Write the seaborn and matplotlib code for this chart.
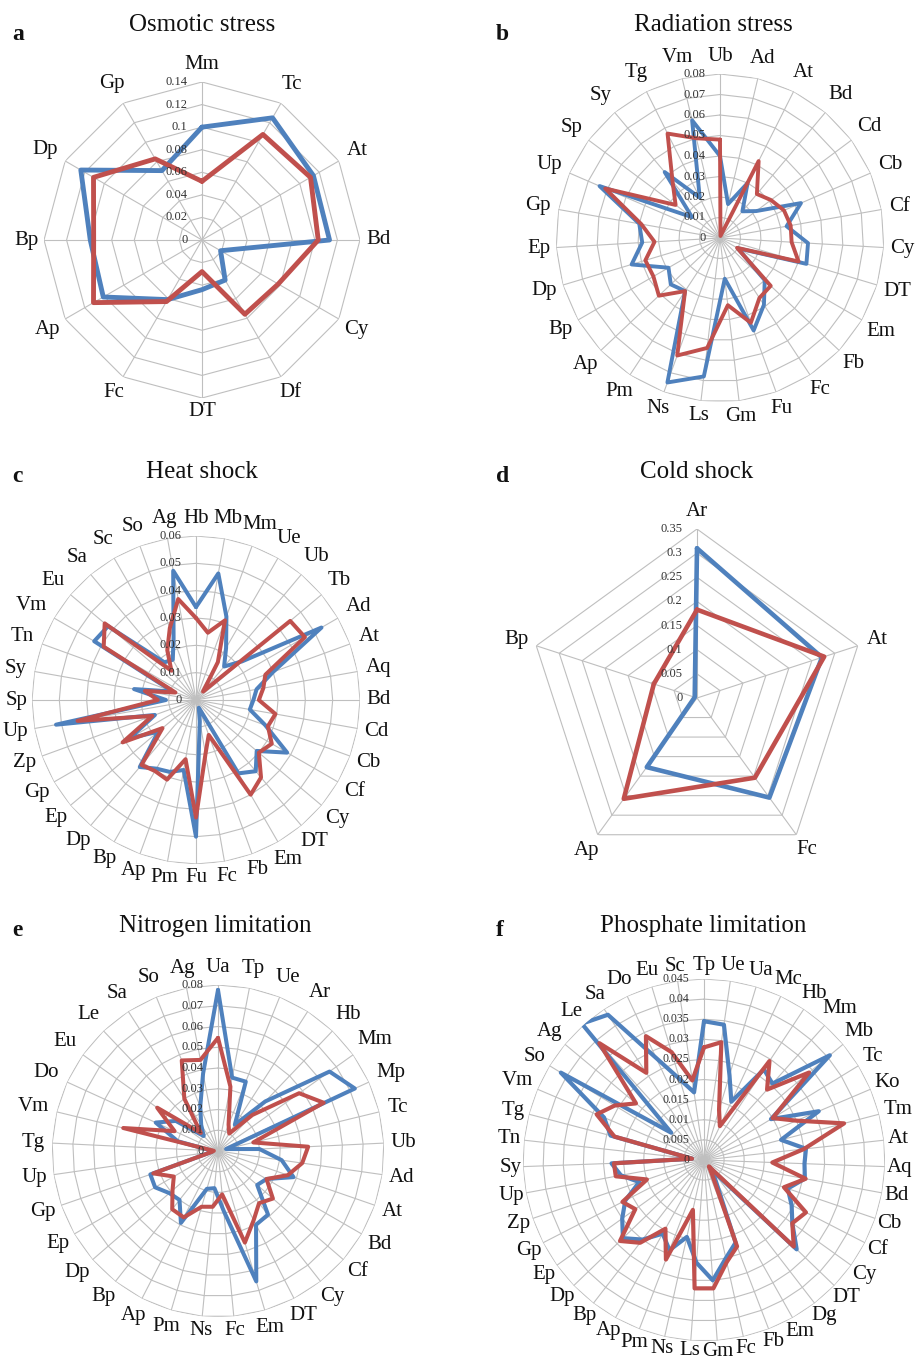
import numpy as np
import pandas as pd
import matplotlib
matplotlib.use("Agg")
import matplotlib.pyplot as plt
import seaborn as sns
from matplotlib.textpath import TextPath
from matplotlib.font_manager import FontProperties

# ---------------- data ----------------
# (a) Osmotic stress
osm_cats = ["Mm", "Tc", "At", "Bd", "Cy", "Df", "DT", "Fc", "Ap", "Bp", "Dp", "Gp"]
osm_blue = [0.100, 0.125, 0.114, 0.113, 0.019, 0.041, 0.044, 0.061, 0.101, 0.099, 0.124, 0.071]
osm_red = [0.052, 0.108, 0.111, 0.103, 0.078, 0.076, 0.028, 0.063, 0.111, 0.096, 0.111, 0.083]

# (b) Radiation stress
rad_cats = ["Ub", "Ad", "At", "Bd", "Cd", "Cb", "Cf", "Cy", "DT", "Em", "Fb", "Fc", "Fu", "Gm",
            "Ls", "Ns", "Pm", "Ap", "Bp", "Dp", "Ep", "Gp", "Up", "Sp", "Sy", "Tg", "Vm"]
rad_blue = [0.040, 0.017, 0.030, 0.017, 0.022, 0.043, 0.033, 0.043, 0.044, 0.010, 0.030, 0.039,
            0.048, 0.020, 0.068, 0.075, 0.031, 0.033, 0.029, 0.045, 0.038, 0.040, 0.064, 0.017,
            0.042, 0.022, 0.059]
rad_red = [0.048, 0.001, 0.042, 0.028, 0.031, 0.034, 0.035, 0.035, 0.040, 0.0096, 0.034, 0.035,
           0.044, 0.033, 0.054, 0.061, 0.031, 0.041, 0.0375, 0.038, 0.032, 0.039, 0.061, 0.027,
           0.036, 0.057, 0.050]

# (c) Heat shock
heat_cats = ["Hb", "Mb", "Mm", "Ue", "Ub", "Tb", "Ad", "At", "Aq", "Bd", "Cd", "Cb", "Cf", "Cy",
             "DT", "Em", "Fb", "Fc", "Fu", "Pm", "Ap", "Bp", "Dp", "Ep", "Gp", "Zp", "Up", "Sp",
             "Sy", "Tn", "Vm", "Eu", "Sa", "Sc", "So", "Ag"]
heat_blue = [0.034, 0.047, 0.0325, 0.022, 0.016, 0.022, 0.053, 0.030, 0.0225, 0.021, 0.020, 0.027,
             0.0385, 0.029, 0.034, 0.031, 0.003, 0.008, 0.050, 0.026, 0.028, 0.029, 0.032, 0.018,
             0.028, 0.016, 0.052, 0.011, 0.023, 0.009, 0.043, 0.042, 0.018, 0.017, 0.024, 0.048]
heat_red = [0.030, 0.025, 0.031, 0.016, 0.004, 0.045, 0.046, 0.027, 0.025, 0.023, 0.0295, 0.028,
            0.032, 0.030, 0.037, 0.040, 0.0136, 0.020, 0.043, 0.022, 0.031, 0.030, 0.031, 0.016,
            0.031, 0.017, 0.044, 0.014, 0.019, 0.008, 0.039, 0.0436, 0.014, 0.021, 0.028, 0.0375]

# (d) Cold shock
cold_cats = ["Ar", "At", "Fc", "Ap", "Bp"]
cold_blue = [0.310, 0.272, 0.255, 0.177, 0.005]
cold_red = [0.183, 0.277, 0.204, 0.258, 0.094]

# (e) Nitrogen limitation
nit_cats = ["Ua", "Tp", "Ue", "Ar", "Hb", "Mm", "Mp", "Tc", "Ub", "Ad", "At", "Bd", "Cf", "Cy",
            "DT", "Em", "Fc", "Ns", "Pm", "Ap", "Bp", "Dp", "Ep", "Gp", "Up", "Tg", "Vm", "Do",
            "Eu", "Le", "Sa", "So", "Ag"]
nit_blue = [0.0776, 0.036, 0.036, 0.015, 0.033, 0.066, 0.0725, 0.004, 0.020, 0.031, 0.0385, 0.027,
            0.025, 0.039, 0.040, 0.0655, 0.029, 0.018, 0.019, 0.039, 0.030, 0.031, 0.035, 0.0345,
            0.003, 0.003, 0.020, 0.033, 0.025, 0.010, 0.015, 0.023, 0.038]
nit_red = [0.0545, 0.0316, 0.0137, 0.010, 0.024, 0.048, 0.056, 0.0175, 0.0435, 0.041, 0.0356, 0.027,
           0.035, 0.032, 0.0375, 0.046, 0.021, 0.027, 0.028, 0.036, 0.0357, 0.029, 0.0246, 0.033,
           0.003, 0.002, 0.047, 0.023, 0.036, 0.012, 0.030, 0.047, 0.0447]

# (f) Phosphate limitation
pho_cats = ["Tp", "Ue", "Ua", "Mc", "Hb", "Mm", "Mb", "Tc", "Ko", "Tm", "At", "Aq", "Bd", "Cb",
            "Cf", "Cy", "DT", "Dg", "Em", "Fb", "Fc", "Gm", "Ls", "Ns", "Pm", "Ap", "Bp", "Dp",
            "Ep", "Gp", "Zp", "Up", "Sy", "Tn", "Tg", "Vm", "So", "Ag", "Le", "Sa", "Do", "Eu", "Sc"]
pho_blue = [0.0345, 0.034, 0.022, 0.016, 0.027, 0.0255, 0.0407, 0.0195, 0.031, 0.0198, 0.0255,
            0.025, 0.0255, 0.022, 0.0245, 0.027, 0.032, 0.003, 0.006, 0.022, 0.025, 0.030, 0.0256,
            0.0196, 0.024, 0.021, 0.025, 0.028, 0.025, 0.022, 0.017, 0.021, 0.023, 0.003, 0.024,
            0.027, 0.0417, 0.0106, 0.0455, 0.0433, 0.028, 0.021, 0.017]
pho_red = [0.028, 0.0296, 0.013, 0.0093, 0.0295, 0.0235, 0.034, 0.020, 0.025, 0.036, 0.025, 0.017,
           0.0257, 0.021, 0.0285, 0.027, 0.031, 0.002, 0.004, 0.023, 0.026, 0.032, 0.032, 0.0127,
           0.0265, 0.0196, 0.026, 0.029, 0.021, 0.0228, 0.015, 0.0223, 0.0224, 0.003, 0.023, 0.029,
           0.026, 0.022, 0.039, 0.026, 0.034, 0.028, 0.020]

# ---------------- style ----------------
W, H = 916, 1362
sns.set_theme(style="white")
plt.rcParams["font.family"] = ["Liberation Serif", "DejaVu Serif"]

BLUE = "#4F81BD"
RED = "#C0504D"
GRID = "#BFBFBF"
CAT_FS = 15
fig = plt.figure(figsize=(W / 100, H / 100), dpi=100)
label_font = FontProperties(family="Liberation Serif", size=CAT_FS)


def fmt(v):
    return f"{v:.4f}".rstrip("0").rstrip(".")


def radar(cx, cy, R, cats, blue, red, rmax, step, title, letter, lw,
          title_xy, letter_xy, tick_fs=9, gap=7, cat_fs=CAT_FS):
    ax = fig.add_axes([(cx - R) / W, (H - cy - R) / H, 2 * R / W, 2 * R / H],
                      projection="polar")
    ax.set_theta_zero_location("N")
    ax.set_theta_direction(-1)
    ax.set_facecolor("none")
    n = len(cats)
    th = np.arange(n) * 2 * np.pi / n
    th_c = np.append(th, 2 * np.pi)
    levels = np.arange(step, rmax + step / 2, step)

    # polygonal web
    for lv in levels:
        ax.plot(th_c, [lv] * (n + 1), color=GRID, lw=0.8, zorder=1)
    for t in th:
        ax.plot([t, t], [0, rmax], color=GRID, lw=0.8, zorder=1)

    df = pd.DataFrame({
        "theta": np.concatenate([th_c, th_c]),
        "value": np.concatenate([blue, blue[:1], red, red[:1]]),
        "series": ["first"] * (n + 1) + ["second"] * (n + 1),
    })
    sns.lineplot(data=df, x="theta", y="value", hue="series",
                 palette={"first": BLUE, "second": RED}, sort=False,
                 estimator=None, lw=lw, legend=False, ax=ax, zorder=3,
                 solid_joinstyle="round")

    ax.set_xticks([])
    ax.set_yticks([])
    ax.grid(False)
    ax.spines["polar"].set_visible(False)
    ax.set_ylim(0, rmax)
    ax.set_xlabel("")
    ax.set_ylabel("")

    # value scale along the first spoke
    for lv in np.concatenate([[0.0], levels]):
        ax.annotate(fmt(lv), xy=(0, lv), xytext=(-10.5, 0), textcoords="offset points",
                    ha="right", va="center", fontsize=tick_fs, color="#333333",
                    annotation_clip=False, zorder=4)

    # category labels around the web
    font = FontProperties(family="Liberation Serif", size=cat_fs)
    for t, lab in zip(th, cats):
        ext = TextPath((0, 0), lab, prop=font).get_extents()
        w_px = ext.width * 100 / 72
        h_px = cat_fs * 0.75 * 100 / 72
        s, c = abs(np.sin(t)), abs(np.cos(t))
        g = gap + 3 * c
        if np.cos(t) < 0:
            g = gap - 1
        off = g + 0.5 * (w_px * s + h_px * c)
        ax.text(t, rmax * (1 + off / R), lab, ha="center", va="center",
                fontsize=cat_fs, color="#111111", clip_on=False)

    fig.text(title_xy[0] / W, 1 - title_xy[1] / H, title, ha="center", va="center",
             fontsize=18, color="#111111")
    fig.text(letter_xy[0] / W, 1 - letter_xy[1] / H, letter, ha="left", va="center",
             fontsize=17, fontweight="bold", color="#111111")
    return ax


radar(202, 240, 158, osm_cats, osm_blue, osm_red, 0.14, 0.02, "Osmotic stress", "a", 3.5,
      (202, 25), (12, 35))
radar(720, 238, 164, rad_cats, rad_blue, rad_red, 0.08, 0.01, "Radiation stress", "b", 2.8,
      (713, 25), (496, 34))
radar(196, 700, 164, heat_cats, heat_blue, heat_red, 0.06, 0.01, "Heat shock", "c", 2.9,
      (202, 472), (12, 477))
radar(697, 698, 169, cold_cats, cold_blue, cold_red, 0.35, 0.05, "Cold shock", "d", 3.3,
      (697, 472), (496, 477))
radar(218, 1151, 166, nit_cats, nit_blue, nit_red, 0.08, 0.01, "Nitrogen limitation", "e", 2.9,
      (215, 926), (12, 930))
radar(704, 1160, 181, pho_cats, pho_blue, pho_red, 0.045, 0.005, "Phosphate limitation", "f", 3.0,
      (703, 926), (496, 930), tick_fs=8.5, gap=3)

fig.savefig("out.png", dpi=100, facecolor="white")
